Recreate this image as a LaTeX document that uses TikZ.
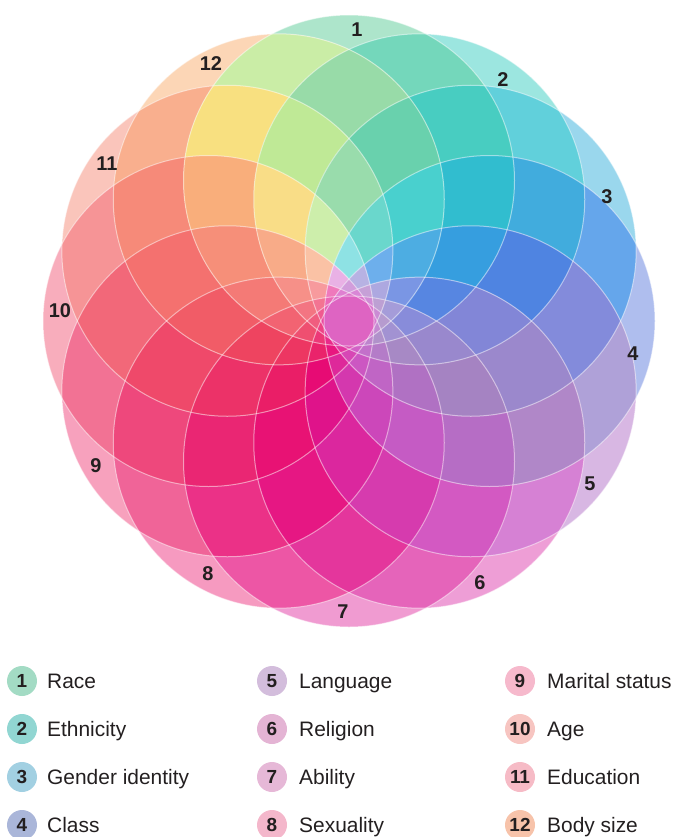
\documentclass[tikz,border=0pt]{standalone}
\usepackage{fontspec}
\setmainfont{Liberation Sans}
\definecolor{txt}{HTML}{231F20}
\definecolor{b1}{HTML}{A3DBC4}
\definecolor{b2}{HTML}{91D6D2}
\definecolor{b3}{HTML}{A2D0E2}
\definecolor{b4}{HTML}{AAB6D9}
\definecolor{b5}{HTML}{D3BDDC}
\definecolor{b6}{HTML}{E4B4D4}
\definecolor{b7}{HTML}{E6B8D7}
\definecolor{b8}{HTML}{F4B7CB}
\definecolor{b9}{HTML}{F6B9CC}
\definecolor{b10}{HTML}{F7C5C1}
\definecolor{b11}{HTML}{F6BBC6}
\definecolor{b12}{HTML}{F7C3AA}
\def\huearr{{152,175,196,226,285,318,322,335,340,348,9,28}}
% table at hue 0,30,...,360
\def\briarr{{0.95,0.97,0.95,0.86,0.80,0.75,0.76,0.88,0.80,0.71,0.74,0.90,0.95}}
\def\sdarr{{0.6,0.7,0.8,0.6,0.38,0.6,0.85,0.9,0.45,0.38,0.6,1,0.6}}
\def\facarr{{0.4,0.65,0.82,0.92,0.96,1,1,1,1,1,1,1}}
\def\rr{165.5bp}
\newcount\rgT
\newcommand\regionfill[2]{%
  \def\sumc{0}\def\sums{0}\def\cliplist{}%
  \rgT=0
  \loop
    \pgfmathtruncatemacro\idx{mod(#1+\the\rgT-1,12)}%
    \pgfmathsetmacro\hv{\huearr[\idx]}%
    \pgfmathsetmacro\sumc{\sumc+cos(\hv)}%
    \pgfmathsetmacro\sums{\sums+sin(\hv)}%
    \pgfmathtruncatemacro\cidx{\idx+1}%
    \edef\cliplist{\unexpanded\expandafter{\cliplist}\noexpand\clip (c\cidx) circle (\noexpand\rr);}%
    \advance\rgT by 1
  \ifnum\rgT<#2 \repeat
  \pgfmathsetmacro\rgHue{mod(atan2(\sums,\sumc)+720,360)}%
  \pgfmathsetmacro\rgCoh{max(sqrt(\sumc*\sumc+\sums*\sums)/#2,0.02)}%
  \pgfmathsetmacro\rgFac{\facarr[#2-1]}%
  \pgfmathsetmacro\rgSat{min(\rgFac*pow(\rgCoh,0.35),1)}%
  \pgfmathtruncatemacro\kk{floor(\rgHue/30)}%
  \pgfmathsetmacro\rgBri{\briarr[\kk]+(\briarr[\kk+1]-\briarr[\kk])*(\rgHue-30*\kk)/30}%
  \pgfmathsetmacro\rgSd{\sdarr[\kk]+(\sdarr[\kk+1]-\sdarr[\kk])*(\rgHue-30*\kk)/30}%
  \pgfmathsetmacro\rgHn{\rgHue/360}%
  \definecolor{deepc}{hsb}{\rgHn,\rgSd,\rgBri}%
  \pgfmathsetmacro\rgPct{100*\rgSat}%
  \begin{scope}
    \cliplist
    \fill[deepc!\rgPct!white] (0,0) rectangle (684,640);
  \end{scope}
}
\tikzset{
  lab/.style={text=txt,font=\bfseries\fontsize{20}{20}\selectfont,inner sep=0pt},
  badge/.style={circle,minimum size=30bp,inner sep=0pt,text=txt,font=\bfseries\fontsize{19}{19}\selectfont},
  legtext/.style={anchor=base west,text=txt,inner sep=0pt,font=\fontsize{21}{21}\selectfont},
  outline/.style={draw=white,line width=1bp,draw opacity=0.5}
}
\begin{document}
\begin{tikzpicture}[x=1bp,y=-1bp]
\useasboundingbox (0,0) rectangle (684,837);
\def\cx{349}\def\cy{321}\def\dd{140.5}
\foreach \k in {1,...,12}{
  \pgfmathsetmacro\ang{90-30*(\k-1)}
  \coordinate (c\k) at ({\cx+\dd*cos(\ang)},{\cy-\dd*sin(\ang)});
}
\foreach \m in {1,...,11}{
  \foreach \i in {1,...,12}{
    \regionfill{\i}{\m}
  }
}
\regionfill{1}{12}
\foreach \k in {1,...,12}{\draw[outline] (c\k) circle (\rr);}
% rosette labels
\node[lab] (l1) at (357,30) {1};
\node[lab] (l2) at (503,80) {2};
\node[lab] (l3) at (607,197) {3};
\node[lab] (l4) at (633,354) {4};
\node[lab] (l5) at (590,484) {5};
\node[lab] (l6) at (480,583) {6};
\node[lab] (l7) at (343,612) {7};
\node[lab] (l8) at (208,574) {8};
\node[lab] (l9) at (96,466) {9};
\node[lab] (l10) at (60,311) {10};
\node[lab] (l11) at (107,164) {11};
\node[lab] (l12) at (211,64) {12};
% legend
\node[badge,fill=b1] (k1) at (22,681) {1};
\node[badge,fill=b2] (k2) at (22,729) {2};
\node[badge,fill=b3] (k3) at (22,777) {3};
\node[badge,fill=b4] (k4) at (22,825) {4};
\node[badge,fill=b5] (k5) at (272,681) {5};
\node[badge,fill=b6] (k6) at (272,729) {6};
\node[badge,fill=b7] (k7) at (272,777) {7};
\node[badge,fill=b8] (k8) at (272,825) {8};
\node[badge,fill=b9] (k9) at (520,681) {9};
\node[badge,fill=b10] (k10) at (520,729) {10};
\node[badge,fill=b11] (k11) at (520,777) {11};
\node[badge,fill=b12] (k12) at (520,825) {12};
\node[legtext] (t1) at (47,688.5) {Race};
\node[legtext] (t2) at (47,736.5) {Ethnicity};
\node[legtext] (t3) at (47,784.5) {Gender identity};
\node[legtext] (t4) at (47,832.5) {Class};
\node[legtext] (t5) at (299,688.5) {Language};
\node[legtext] (t6) at (299,736.5) {Religion};
\node[legtext] (t7) at (299,784.5) {Ability};
\node[legtext] (t8) at (299,832.5) {Sexuality};
\node[legtext] (t9) at (547,688.5) {Marital status};
\node[legtext] (t10) at (547,736.5) {Age};
\node[legtext] (t11) at (547,784.5) {Education};
\node[legtext] (t12) at (547,832.5) {Body size};
\end{tikzpicture}
\end{document}
